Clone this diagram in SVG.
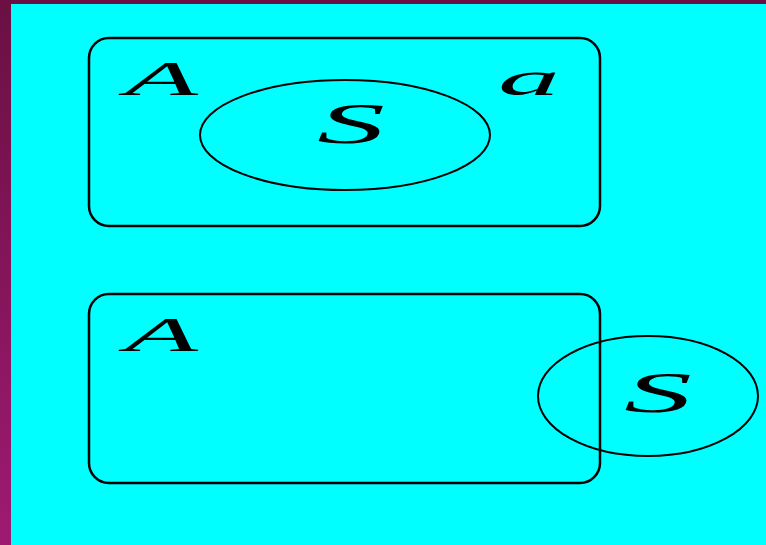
<svg xmlns="http://www.w3.org/2000/svg" width="766" height="545" viewBox="0 0 766 545">
<defs>
<linearGradient id="bar" x1="0" y1="0" x2="0" y2="1">
<stop offset="0" stop-color="#6a1043"/>
<stop offset="1" stop-color="#9e1a72"/>
</linearGradient>
<style>
.box{fill:none;stroke:#000;stroke-width:2.5}
.circ{fill:none;stroke:#000;stroke-width:2}
.lbl{font-family:"Liberation Serif","Times New Roman",serif;font-style:italic;font-size:48px;fill:#000}
.s{font-size:56px}
</style>
</defs>
<rect x="0" y="0" width="766" height="545" fill="url(#bar)"/>
<rect x="11" y="4" width="755" height="541" fill="#00ffff"/>
<g id="top">
<rect class="box" x="89" y="38" width="511" height="188" rx="20" ry="20"/>
<ellipse class="circ" cx="345" cy="135" rx="145" ry="55"/>
<text class="lbl" x="125" y="95" textLength="73" lengthAdjust="spacingAndGlyphs">A</text>
<text class="lbl" x="498" y="95" textLength="62" lengthAdjust="spacingAndGlyphs">a</text>
<text class="lbl s" x="317" y="143" textLength="68" lengthAdjust="spacingAndGlyphs">S</text>
</g>
<g id="bottom">
<rect class="box" x="89" y="294" width="511" height="189" rx="20" ry="20"/>
<ellipse class="circ" cx="648" cy="396" rx="110" ry="60"/>
<text class="lbl" x="125" y="351" textLength="73" lengthAdjust="spacingAndGlyphs">A</text>
<text class="lbl s" x="624" y="412" textLength="68" lengthAdjust="spacingAndGlyphs">S</text>
</g>
<g id="connectors"/>
</svg>
